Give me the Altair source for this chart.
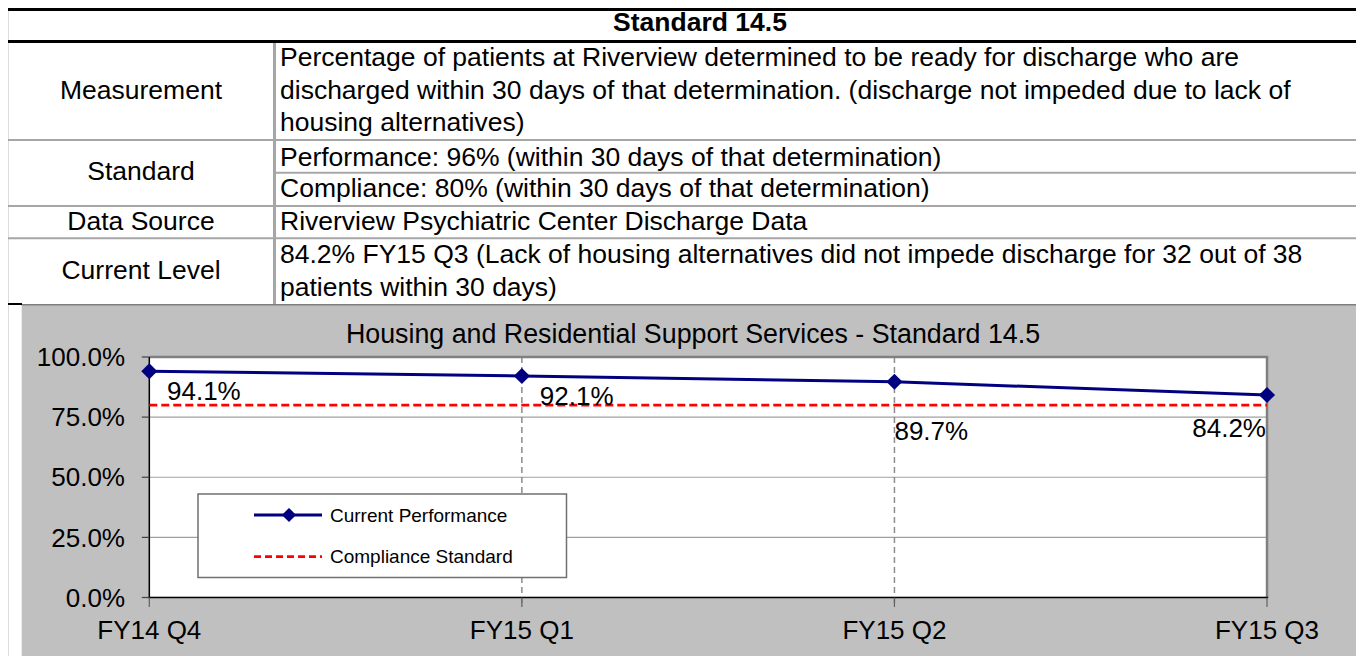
import altair as alt
import pandas as pd

# ---------------- data ----------------
quarters = ["FY14 Q4", "FY15 Q1", "FY15 Q2", "FY15 Q3"]
performance = [0.941, 0.921, 0.897, 0.842]
compliance = [0.80, 0.80, 0.80, 0.80]
y_ticks = [0.0, 0.25, 0.5, 0.75, 1.0]
grid_values = [0.25, 0.5, 0.75]
dashed_quarters = ["FY15 Q1", "FY15 Q2"]
series_names = ["Current Performance", "Compliance Standard"]
chart_title = "Housing and Residential Support Services - Standard 14.5"
table_header = "Standard 14.5"
row_labels = ["Measurement", "Standard", "Data Source", "Current Level"]
measurement_lines = [
    "Percentage of patients at Riverview determined to be ready for discharge who are",
    "discharged within 30 days of that determination. (discharge not impeded due to lack of",
    "housing alternatives)",
]
standard_lines = [
    "Performance: 96% (within 30 days of that determination)",
    "Compliance: 80% (within 30 days of that determination)",
]
source_lines = ["Riverview Psychiatric Center Discharge Data"]
current_lines = [
    "84.2% FY15 Q3 (Lack of housing alternatives did not impede discharge for 32 out of 38",
    "patients within 30 days)",
]

# ---------------- layout ----------------
FONT = "Liberation Sans"
W, H = 1348, 648
X0, X1 = 141.3, 1259.0      # pixel x of first / last quarter
Y0, Y1 = 589.5, 349.0       # pixel y of 0% / 100%
TS = 26.5                   # table font size

xs = alt.Scale(type="point", domain=quarters, range=[X0, X1], padding=0)
ys = alt.Scale(domain=[0, 1], range=[Y0, Y1])
one = pd.DataFrame({"k": [0]})


def box(x, x2, y, y2, fill):
    return alt.Chart(one).mark_rect(fill=fill).encode(
        x=alt.value(x), x2=alt.value(x2), y=alt.value(y), y2=alt.value(y2))


def hline(x, x2, y, color, sw, dash=None):
    kw = dict(color=color, strokeWidth=sw)
    if dash:
        kw["strokeDash"] = dash
    return alt.Chart(one).mark_rule(**kw).encode(
        x=alt.value(x), x2=alt.value(x2), y=alt.value(y))


def vline(x, y, y2, color, sw):
    return alt.Chart(one).mark_rule(color=color, strokeWidth=sw).encode(
        x=alt.value(x), y=alt.value(y), y2=alt.value(y2))


def label(text, x, y, size, align="left", weight="normal"):
    return alt.Chart(pd.DataFrame({"t": [text]})).mark_text(
        align=align, baseline="alphabetic", fontSize=size, font=FONT,
        fontWeight=weight, color="black").encode(
        x=alt.value(x), y=alt.value(y), text="t:N")


def qx():
    return alt.X("quarter:N", scale=xs, sort=quarters, axis=None)


layers = []

# chart panel background
layers.append(box(13.7, W + 5, 296.5, H + 5, "#c0c0c0"))
layers.append(hline(13.7, W, 296.8, "#7f7f7f", 1.5))

# ---------------- table ----------------
GRID = "#a6a6a6"
layers.append(box(0, W, 0, 3, "black"))
layers.append(box(0, W, 32, 35, "black"))
layers.append(hline(0, W, 132, GRID, 2))
layers.append(hline(266.5, W, 164.8, GRID, 2))
layers.append(hline(0, W, 198, GRID, 2))
layers.append(hline(0, W, 230.3, GRID, 2))
layers.append(hline(0, 14, 296, "black", 2))
layers.append(vline(266.5, 35, 296, GRID, 3))

layers.append(label(table_header, 692, 23, 26.5, align="center", weight="bold"))

LX, RX = 133, 272
layers.append(label(row_labels[0], LX, 90.5, TS, align="center"))
layers.append(label(row_labels[1], LX, 172, TS, align="center"))
layers.append(label(row_labels[2], LX, 221.5, TS, align="center"))
layers.append(label(row_labels[3], LX, 271, TS, align="center"))

for txt, yy in zip(measurement_lines, [58, 90.5, 123]):
    layers.append(label(txt, RX, yy, TS))
for txt, yy in zip(standard_lines, [157.5, 189]):
    layers.append(label(txt, RX, yy, TS))
for txt, yy in zip(source_lines, [221.5]):
    layers.append(label(txt, RX, yy, TS))
for txt, yy in zip(current_lines, [255, 288]):
    layers.append(label(txt, RX, yy, TS))

# ---------------- plot area ----------------
layers.append(box(X0 + 0.8, X1, Y1, Y0 - 0.8, "white"))

grid_df = pd.DataFrame({"g": grid_values})
layers.append(alt.Chart(grid_df).mark_rule(color="#a0a0a0", strokeWidth=1.2).encode(
    y=alt.Y("g:Q", scale=ys, axis=None), x=alt.value(X0), x2=alt.value(X1)))

vg_df = pd.DataFrame({"quarter": dashed_quarters})
layers.append(alt.Chart(vg_df).mark_rule(color="#8c8c8c", strokeWidth=1.5, strokeDash=[6, 4]).encode(
    x=qx(), y=alt.value(Y1), y2=alt.value(Y0 + 9.5)))

# plot border and axis lines
layers.append(hline(X0, X1 + 1.2, Y1, "#808080", 2.5))
layers.append(vline(X1, Y1, Y0, "#808080", 2.5))
layers.append(vline(X0, Y1, Y0 + 0.7, "black", 1.5))
layers.append(hline(X0 - 0.7, X1 + 1.2, Y0, "black", 1.5))

# axis ticks and tick labels
tick_df = pd.DataFrame({"t": y_ticks})
layers.append(alt.Chart(tick_df).mark_rule(color="#404040", strokeWidth=1.2).encode(
    y=alt.Y("t:Q", scale=ys, axis=None), x=alt.value(X0 - 7.5), x2=alt.value(X0)))
layers.append(alt.Chart(tick_df).mark_text(
    font=FONT, fontSize=26, color="black", align="right", baseline="alphabetic", dy=9.2).encode(
    y=alt.Y("t:Q", scale=ys, axis=None), x=alt.value(117),
    text=alt.Text("t:Q", format=".1%")))

q_df = pd.DataFrame({"quarter": quarters})
layers.append(alt.Chart(q_df).mark_rule(color="#606060", strokeWidth=1.2).encode(
    x=qx(), y=alt.value(Y0), y2=alt.value(Y0 + 9.5)))
layers.append(alt.Chart(q_df).mark_text(
    font=FONT, fontSize=26, color="black", align="center", baseline="alphabetic").encode(
    x=qx(), y=alt.value(631.3), text="quarter:N"))

# series
comp_df = pd.DataFrame({"quarter": quarters, "value": compliance})
layers.append(alt.Chart(comp_df).mark_line(color="#ff0000", strokeWidth=2.7, strokeDash=[8, 4]).encode(
    x=qx(), y=alt.Y("value:Q", scale=ys, axis=None)))

perf_df = pd.DataFrame({"quarter": quarters, "value": performance})
layers.append(alt.Chart(perf_df).mark_line(color="#000080", strokeWidth=3).encode(
    x=qx(), y=alt.Y("value:Q", scale=ys, axis=None)))
layers.append(alt.Chart(perf_df).mark_point(shape="diamond", filled=True, size=260,
                                            color="#000080", opacity=1).encode(
    x=qx(), y=alt.Y("value:Q", scale=ys, axis=None)))

# data labels (manually placed in the source chart)
label_offsets = {
    "FY14 Q4": (17.7, 28.8, "left"),
    "FY15 Q1": (18, 29, "left"),
    "FY15 Q2": (0, 58, "left"),
    "FY15 Q3": (-1, 42, "right"),
}
for q in quarters:
    dx, dy, al = label_offsets[q]
    layers.append(alt.Chart(perf_df).transform_filter(alt.datum.quarter == q).mark_text(
        font=FONT, fontSize=26, color="black", align=al, baseline="alphabetic", dx=dx, dy=dy).encode(
        x=qx(), y=alt.Y("value:Q", scale=ys, axis=None),
        text=alt.Text("value:Q", format=".1%")))

# legend
layers.append(alt.Chart(one).mark_rect(fill="white", stroke="#707070", strokeWidth=1.5).encode(
    x=alt.value(190), x2=alt.value(558.5), y=alt.value(486), y2=alt.value(569.5)))
layers.append(hline(246, 314, 507, "#000080", 3))
layers.append(alt.Chart(one).mark_point(shape="diamond", filled=True, size=200,
                                        color="#000080", opacity=1).encode(
    x=alt.value(281), y=alt.value(507)))
layers.append(hline(246, 314, 548.7, "#ff0000", 2.7, dash=[7, 4]))
layers.append(label(series_names[0], 322, 513.7, 19))
layers.append(label(series_names[1], 322, 555.4, 19))

# chart title
layers.append(label(chart_title, 685, 334.7, 26.8, align="center"))

chart = alt.layer(*layers).properties(
    width=W, height=H, padding=0,
    autosize=alt.AutoSizeParams(type="none"),
    background="white",
).configure_view(stroke=None).configure(font=FONT)

chart.save("out.html", embed_options={"renderer": "svg", "actions": False})
